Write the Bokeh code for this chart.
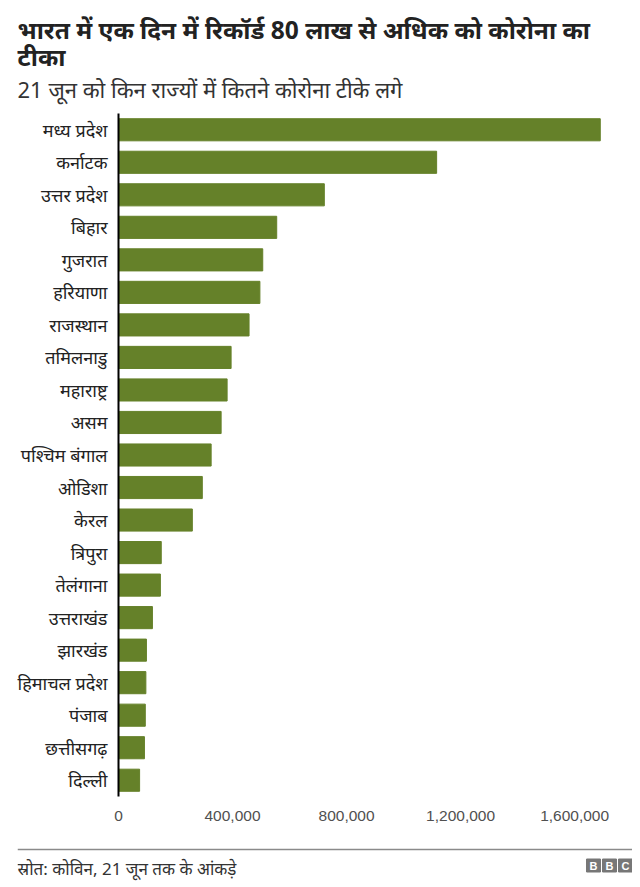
from bokeh.core.properties import value
from bokeh.embed import file_html
from bokeh.layouts import column
from bokeh.models import (FactorRange, FixedTicker, Label, NumeralTickFormatter,
                          Range1d, Span, Title)
from bokeh.plotting import figure
from bokeh.resources import INLINE

states = [
    "मध्य प्रदेश", "कर्नाटक", "उत्तर प्रदेश", "बिहार", "गुजरात", "हरियाणा",
    "राजस्थान", "तमिलनाडु", "महाराष्ट्र", "असम", "पश्चिम बंगाल", "ओडिशा",
    "केरल", "त्रिपुरा", "तेलंगाना", "उत्तराखंड", "झारखंड", "हिमाचल प्रदेश",
    "पंजाब", "छत्तीसगढ़", "दिल्ली",
]
doses = [
    1690000, 1116000, 722000, 555000, 506000, 496000,
    458000, 395000, 381000, 360000, 325000, 294000,
    259000, 150000, 147000, 119000, 98000, 96000,
    94000, 91000, 74000,
]
x_ticks = [0, 400000, 800000, 1200000, 1600000]

title_1 = "भारत में एक दिन में रिकॉर्ड 80 लाख से अधिक को कोरोना का"
title_2 = "टीका"
subtitle = "21 जून को किन राज्यों में कितने कोरोना टीके लगे"
source = "स्रोत: कोविन, 21 जून तक के आंकड़े"

FONT = "Noto Sans"
BAR = "#658129"
LEFT = 118  # room for the state names

p = figure(
    width=632, height=823,
    y_range=FactorRange(factors=list(reversed(states))),
    x_range=Range1d(0, 1775000),
    output_backend="svg", toolbar_location=None,
    min_border_left=LEFT, min_border_right=8, min_border_top=113, min_border_bottom=0,
)
p.frame_align = False
p.outline_line_color = None
p.xgrid.visible = False
p.ygrid.visible = False

p.hbar(y=states, right=doses, height=0.68, color=BAR)

# titles: last added sits on top
p.add_layout(Title(text=subtitle, text_font=FONT, text_font_size="22px",
                   text_font_style="normal", text_color="#333333",
                   offset=17 - LEFT, standoff=20), "above")
p.add_layout(Title(text=title_2, text_font=FONT, text_font_size="24.5px",
                   text_font_style="bold", text_color="#222222",
                   offset=17 - LEFT, standoff=-23), "above")
p.add_layout(Title(text=title_1, text_font=FONT, text_font_size="24.5px",
                   text_font_style="bold", text_color="#222222",
                   offset=17 - LEFT, standoff=7), "above")

p.yaxis.axis_line_color = "black"
p.yaxis.axis_line_width = 2
p.yaxis.major_tick_line_color = None
p.yaxis.minor_tick_line_color = None
p.yaxis.major_label_text_font = FONT
p.yaxis.major_label_text_font_size = "18px"
p.yaxis.major_label_text_color = "#222222"
p.yaxis.major_label_standoff = 5

p.xaxis.ticker = FixedTicker(ticks=x_ticks)
p.xaxis.formatter = NumeralTickFormatter(format="0,0")
p.xaxis.axis_line_color = None
p.xaxis.major_tick_line_color = None
p.xaxis.minor_tick_line_color = None
p.xaxis.major_label_text_font = "Liberation Sans"
p.xaxis.major_label_text_font_size = "15.5px"
p.xaxis.major_label_text_color = "#505050"
p.xaxis.major_label_standoff = 8

# footer: rule, source note and BBC blocks
f = figure(
    width=632, height=63, x_range=Range1d(17, 632), y_range=Range1d(0, 63),
    output_backend="svg", toolbar_location=None,
    x_axis_location=None, y_axis_location=None,
    min_border_left=17, min_border_right=0, min_border_top=0, min_border_bottom=0,
)
f.frame_align = False
f.outline_line_color = None
f.grid.visible = False
f.add_layout(Span(location=37, dimension="width", line_color="#8a8a8a",
                  line_width=1.5))
f.add_layout(Label(x=17, y=18, text=source, text_font=FONT,
                   text_font_size="17px", text_color="#333333",
                   text_baseline="middle"))
logo = ["B", "B", "C"]
logo_x = [593, 609, 625]
f.rect(x=logo_x, y=[21] * 3, width=14, height=13, color="#777777")
f.text(x=logo_x, y=[21] * 3, text=logo, text_font=value("Liberation Sans"),
       text_font_size="11px", text_font_style="bold", text_color="white",
       text_align="center", text_baseline="middle")

layout = column(p, f, spacing=0)
open("out.html", "w").write(file_html(layout, INLINE))
